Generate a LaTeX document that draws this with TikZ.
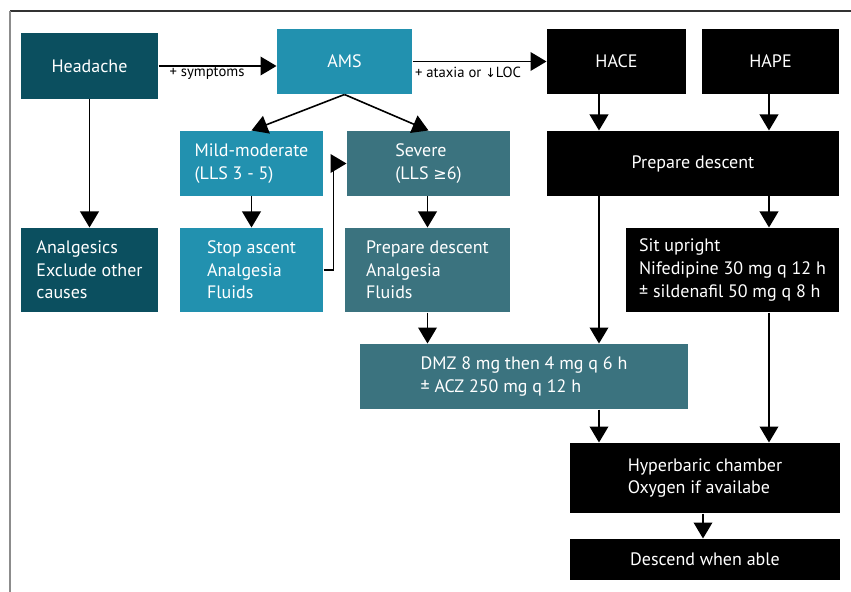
\documentclass[tikz,border=0pt]{standalone}
\usepackage{fontspec}
\setmainfont{PT Sans}
\newfontfamily\symfont{DejaVu Sans}
\usetikzlibrary{arrows.meta}

\definecolor{tealdark}{HTML}{0B4F5F}
\definecolor{tealmid}{HTML}{3B737F}
\definecolor{teallight}{HTML}{2291AF}

\tikzset{
	box/.style={draw=none, text=white, align=left, inner sep=0pt,
		font=\fontsize{13.5}{17}\selectfont},
	boxdark/.style={box, fill=tealdark},
	boxmid/.style={box, fill=tealmid},
	boxlight/.style={box, fill=teallight},
	boxblack/.style={box, fill=black},
	arr/.style={-{Triangle[length=12pt,width=14pt]}, line width=1.2pt},
	lbl/.style={font=\fontsize{11}{12}\selectfont, inner sep=0pt}}
\tikzset{every picture/.style={line width=0.75pt}}

\begin{document}
\begin{tikzpicture}[x=0.75pt,y=0.75pt,yscale=-1,xscale=1]
	\useasboundingbox (0,0) rectangle (851,592);

	%Shape: Frame
	\draw [black!80, line width=0.8pt] (10,11) -- (851,11) ;
	\draw [black!45, line width=1.4pt] (10,11) -- (10,592) ;

	%Shape: Rectangle [id:head]
	\node [boxdark, minimum width=102.75pt, minimum height=49.5pt] (head) at (89.5,66) {Headache};
	%Shape: Rectangle [id:ams]
	\node [boxlight, minimum width=101.25pt, minimum height=48.75pt] (ams) at (344.5,61.5) {AMS};
	%Shape: Rectangle [id:hace]
	\node [boxblack, minimum width=104.25pt, minimum height=48.75pt] (hace) at (616.5,61.5) {HACE};
	%Shape: Rectangle [id:hape]
	\node [boxblack, minimum width=102.75pt, minimum height=48.75pt] (hape) at (770.5,61.5) {HAPE};

	%Shape: Rectangle [id:mild]
	\node [boxlight, minimum width=107.25pt, minimum height=48.75pt] (mild) at (251.5,163.5) {Mild-moderate\\(LLS 3 - 5)};
	%Shape: Rectangle [id:severe]
	\node [boxmid, minimum width=122.25pt, minimum height=48.75pt] (severe) at (428.5,163.5) {Severe\\(LLS {\symfont\fontsize{12}{17}\selectfont ≥}6)};
	%Shape: Rectangle [id:prepB]
	\node [boxblack, minimum width=219pt, minimum height=48.75pt] (prepB) at (693,163.5) {Prepare descent};

	%Shape: Rectangle [id:anal]
	\node [boxdark, minimum width=102.75pt, minimum height=63pt] (anal) at (89.5,270) {Analgesics\\Exclude other\\causes};
	%Shape: Rectangle [id:stop]
	\node [boxlight, minimum width=107.25pt, minimum height=63pt] (stop) at (251.5,270) {Stop ascent\\Analgesia\\Fluids};
	%Shape: Rectangle [id:prepL]
	\node [boxmid, minimum width=123.75pt, minimum height=63pt] (prepL) at (427.5,270) {Prepare descent\\Analgesia\\Fluids};
	%Shape: Rectangle [id:sit]
	\node [boxblack, minimum width=159.75pt, minimum height=63pt] (sit) at (732.5,270) {Sit upright\\Nifedipine 30 mg q 12 h\\± sildenafil 50 mg q 8 h};

	%Shape: Rectangle [id:dmz]
	\node [boxmid, minimum width=246pt, minimum height=48.75pt] (dmz) at (524,376.5) {DMZ 8 mg then 4 mg q 6 h\\± ACZ 250 mg q 12 h};
	%Shape: Rectangle [id:hyper]
	\node [boxblack, minimum width=202.5pt, minimum height=52.5pt] (hyper) at (705,478) {Hyperbaric chamber\\Oxygen if availabe};
	%Shape: Rectangle [id:desc]
	\node [boxblack, minimum width=202.5pt, minimum height=30.75pt] (desc) at (705,559.5) {Descend when able};

	% lanes of the right column
	\coordinate (laneL) at (599,0);
	\coordinate (laneR) at (769,0);

	%Straight Lines
	\draw [arr] (head.east) -- (head.east -| ams.west) ;
	\draw [arr] (ams.east) -- (hace.west) ;
	\draw [arr] (head.south) -- (anal.north) ;
	\draw [arr] (ams.south) -- (mild.north) ;
	\draw [arr] (ams.south) -- (severe.north) ;
	\draw [arr] (mild.south) -- (stop.north) ;
	\draw [arr] (prepL.north |- severe.south) -- (prepL.north) ;
	\draw [arr] (stop.east) -- ++(10,0) |- (severe.west) ;
	\draw [arr] (prepL.south) -- (prepL.south |- dmz.north) ;
	\draw [arr] (hace.south -| laneL) -- (prepB.north -| laneL) ;
	\draw [arr] (hape.south -| laneR) -- (prepB.north -| laneR) ;
	\draw [arr] (prepB.south -| laneL) -- (dmz.north -| laneL) ;
	\draw [arr] (prepB.south -| laneR) -- (sit.north -| laneR) ;
	\draw [arr] (dmz.south -| laneL) -- (hyper.north -| laneL) ;
	\draw [arr] (sit.south -| laneR) -- (hyper.north -| laneR) ;
	\draw [arr] (hyper.south -| 703,0) -- (desc.north -| 703,0) ;

	% Text Node
	\node [lbl] (lblsym) at (207,73) {+ symptoms};
	% Text Node
	\node [lbl] (lblatx) at (468,72) {+ ataxia or {\symfont\fontsize{9.5}{12}\selectfont ↓}LOC};

\end{tikzpicture}
\end{document}
